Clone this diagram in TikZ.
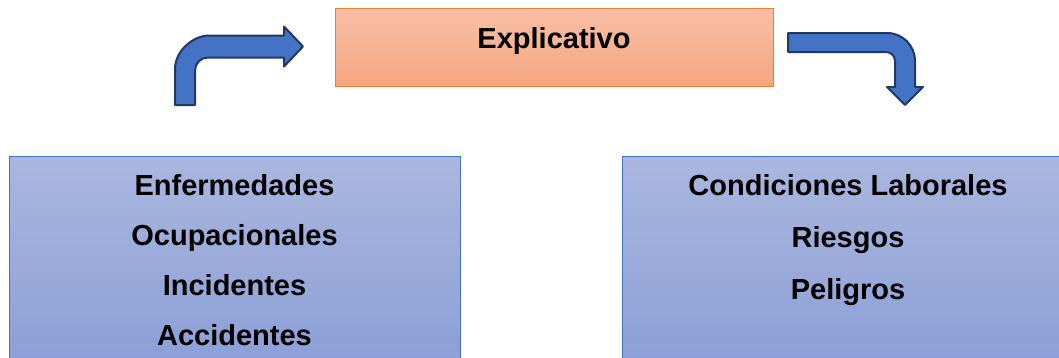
\documentclass[tikz,border=0pt]{standalone}
\usepackage{fontspec}
\setmainfont{Liberation Sans}
\definecolor{arrowfill}{HTML}{4472C4}
\definecolor{arrowedge}{HTML}{1F3864}
\definecolor{boxedge}{HTML}{4472C4}
\definecolor{bluetop}{RGB}{170,182,223}
\definecolor{bluebot}{RGB}{136,157,214}
\definecolor{orangetop}{RGB}{248,191,166}
\definecolor{orangebot}{RGB}{245,165,128}
\definecolor{orangeedge}{HTML}{ED7D31}

\begin{document}
\begin{tikzpicture}[x=1pt,y=-1pt,
  txt/.style={font=\fontsize{29}{34}\selectfont\bfseries, anchor=base, inner sep=0pt},
  bentarrow/.style={fill=arrowfill, draw=arrowedge, line width=2pt, line join=round},
  bluebox/.style={draw=boxedge, line width=1.3pt, top color=bluetop, bottom color=bluebot,
    anchor=north west, inner sep=0pt},
  orangebox/.style={draw=orangeedge, line width=1.3pt, top color=orangetop, bottom color=orangebot,
    anchor=north west, inner sep=0pt}]
\useasboundingbox (0,0) rectangle (1059,357);
\clip (0,0) rectangle (1059,357);

% central box
\node (expl) [orangebox, minimum width=438pt, minimum height=78pt] at (335,8) {};
\node (explt) [txt] at (554,48) {Explicativo};

% lower boxes (they run past the lower edge)
\node (leftbox) [bluebox, minimum width=451pt, minimum height=230pt] at (9,156) {};
\node (rightbox) [bluebox, minimum width=452pt, minimum height=230pt] at (622,156) {};

\node (l1) [txt] at (234.5,195) {Enfermedades};
\node (l2) [txt] at (234.5,245) {Ocupacionales};
\node (l3) [txt] at (234.5,295) {Incidentes};
\node (l4) [txt] at (234.5,345) {Accidentes};

\node (r1) [txt] at (848,195) {Condiciones Laborales};
\node (r2) [txt] at (848,247) {Riesgos};
\node (r3) [txt] at (848,299) {Peligros};

% bent arrow up and to the right
\draw[bentarrow] (175,105) -- (175,69)
  .. controls (175,50.7) and (193.3,35.5) .. (209,35.5)
  -- (284,35.5) -- (284,26.5) -- (303,46.5) -- (284,66.5) -- (284,57.5)
  -- (208,57.5) .. controls (200.8,57.5) and (195,63.3) .. (195,70.5)
  -- (195,105) -- cycle;

% bent arrow right and down
\draw[bentarrow] (788,33) -- (887,33)
  .. controls (902.5,33) and (915,45.5) .. (915,61)
  -- (915,87) -- (923,87) -- (905,105) -- (887,87) -- (895,87)
  -- (895,61) .. controls (895,56) and (891,52) .. (886,52)
  -- (788,52) -- cycle;
\end{tikzpicture}
\end{document}
